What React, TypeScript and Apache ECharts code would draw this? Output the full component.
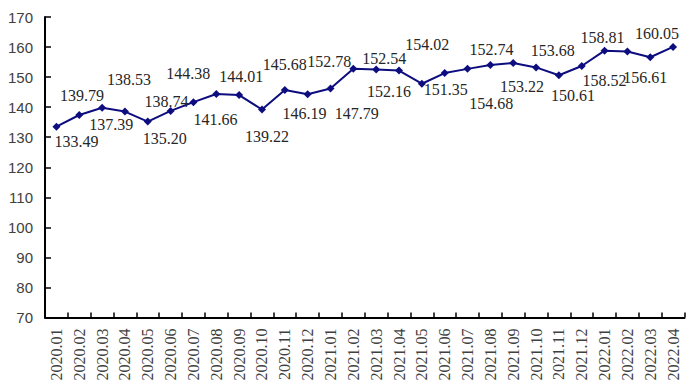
import React, { useEffect, useRef } from "react";
import * as echarts from "echarts";

const categories = [
  "2020.01", "2020.02", "2020.03", "2020.04", "2020.05", "2020.06", "2020.07",
  "2020.08", "2020.09", "2020.10", "2020.11", "2020.12", "2021.01", "2021.02",
  "2021.03", "2021.04", "2021.05", "2021.06", "2021.07", "2021.08", "2021.09",
  "2021.10", "2021.11", "2021.12", "2022.01", "2022.02", "2022.03", "2022.04",
];

const values = [
  133.49, 137.39, 139.79, 138.53, 135.2, 138.74, 141.66,
  144.38, 144.01, 139.22, 145.68, 144.3, 146.19, 152.78,
  152.54, 152.16, 147.79, 151.35, 152.74, 154.02, 154.68,
  153.22, 150.61, 153.68, 158.81, 158.52, 156.61, 160.05,
];

// whether each point's value label is shown in the reference
const labelShown = [
  true, true, true, true, true, true, true,
  true, true, true, true, false, true, true,
  true, true, true, true, true, true, true,
  true, true, true, true, true, true, true,
];

// label centre offsets from each point (layout only)
const labelOffsets: [number, number][] = [
  [20, 15], [32, 10], [-20, -12], [4, -32], [17, 17], [-4, -9], [22, 17],
  [-28, -20], [2, -19], [5, 27], [0, -26], [0, 0], [-26, 25], [-24, -7],
  [8, -11], [-10, 21], [-65, 30], [1, 16], [24, -19], [-63, -21], [-22, 40],
  [-14, 19], [14, 20], [-29, -16], [-2, -13], [-23, 29], [-5, 20], [-16, -13],
];

const yMin = 70;
const yMax = 170;
const yInterval = 10;

export default function App() {
  const ref = useRef<HTMLDivElement>(null);

  useEffect(() => {
    if (!ref.current) return;
    const chart = echarts.init(ref.current, null, { renderer: "svg" });
    chart.setOption({
      animation: false,
      backgroundColor: "#ffffff",
      grid: { left: 45, right: 6.5, top: 17, bottom: 71.5, containLabel: false },
      xAxis: {
        type: "category",
        data: categories,
        boundaryGap: true,
        axisLine: { show: true, lineStyle: { color: "#000000", width: 2 } },
        axisTick: { show: true, inside: true, length: 5, alignWithLabel: false, lineStyle: { color: "#000000", width: 1.5 } },
        axisLabel: {
          rotate: 90,
          interval: 0,
          margin: 11,
          color: "#404040",
          fontFamily: "Liberation Serif",
          fontSize: 16,
        },
        splitLine: { show: false },
      },
      yAxis: {
        type: "value",
        min: yMin,
        max: yMax,
        interval: yInterval,
        axisLine: { show: true, lineStyle: { color: "#000000", width: 2 } },
        axisTick: { show: true, inside: true, length: 6, lineStyle: { color: "#000000", width: 1.5 } },
        axisLabel: {
          margin: 12,
          color: "#404040",
          fontFamily: "Liberation Sans",
          fontSize: 15,
        },
        splitLine: { show: false },
      },
      series: [
        {
          type: "line",
          data: values.map((v, i) => ({
            value: v,
            label: {
              show: labelShown[i],
              position: "inside",
              offset: labelOffsets[i],
              align: "center",
              verticalAlign: "middle",
            },
          })),
          symbol: "diamond",
          symbolSize: 8,
          lineStyle: { color: "#0d0d80", width: 2 },
          itemStyle: { color: "#0d0d80" },
          label: {
            show: true,
            formatter: (p: any) => Number(p.value).toFixed(2),
            color: "#262626",
            fontFamily: "Liberation Serif",
            fontSize: 16,
            lineHeight: 14,
          },
        },
      ],
    });
    return () => chart.dispose();
  }, []);

  return <div ref={ref} style={{ width: 691, height: 389, position: "absolute", left: 0, top: 0 }} />;
}
